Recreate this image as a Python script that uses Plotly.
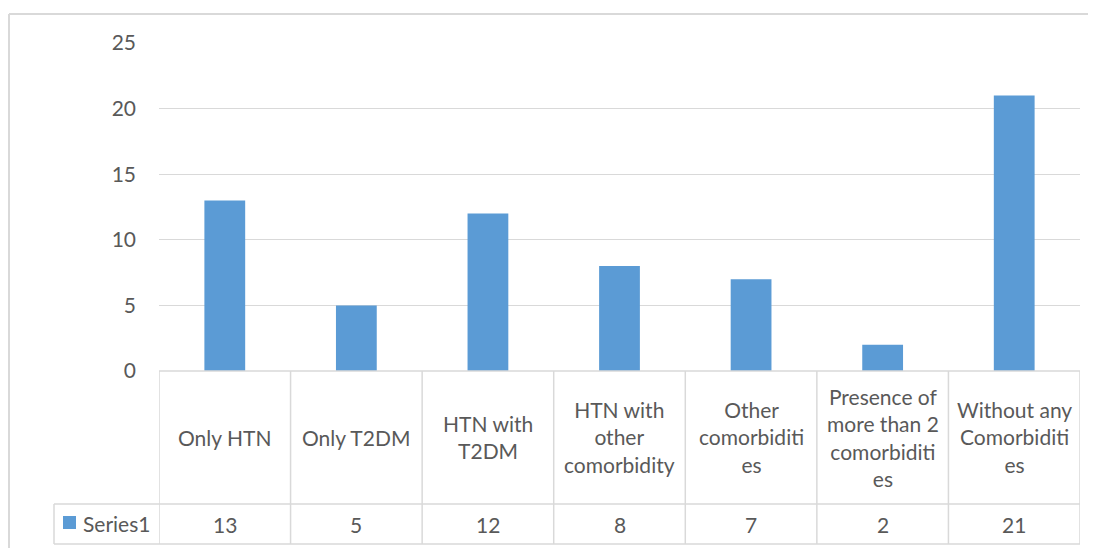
import plotly.graph_objects as go

categories = ["Only HTN", "Only T2DM", "HTN with<br>T2DM", "HTN with<br>other<br>comorbidity",
              "Other<br>comorbiditi<br>es", "Presence of<br>more than 2<br>comorbiditi<br>es",
              "Without any<br>Comorbiditi<br>es"]
values = [13, 5, 12, 8, 7, 2, 21]
series_name = "Series1"
y_ticks = [0, 5, 10, 15, 20, 25]

OFF = 8  # page body margin offset
W, H = 1096, 548
L, R, T, B = 159 - OFF, 1080 - OFF, 43 - OFF, 371 - OFF
PW, PH = R - L, B - T

def px(x):
    return (x - OFF - L) / PW

def py(y):
    return (B - (y - OFF)) / PH

BAR = "#5b9bd5"
GRID = "#d9d9d9"
TXT = "#595959"
FONT = "Lato"

n = len(categories)
xs = list(range(n))

fig = go.Figure()
fig.add_trace(go.Bar(x=xs, y=values, width=0.31, marker=dict(color=BAR, line=dict(width=0)),
                     name=series_name, showlegend=False))

shapes = []
line = dict(color=GRID, width=1.5)
# outer chart border
shapes.append(dict(type="line", xref="paper", yref="paper", x0=px(9), x1=px(1110), y0=py(14), y1=py(14),
                   line=dict(color=GRID, width=2)))
shapes.append(dict(type="line", xref="paper", yref="paper", x0=px(9), x1=px(9), y0=py(14), y1=py(560),
                   line=dict(color=GRID, width=2)))
# table horizontals
shapes.append(dict(type="line", xref="x", yref="paper", x0=-0.5, x1=n - 0.5, y0=0, y1=0, line=line))
shapes.append(dict(type="line", xref="paper", yref="paper", x0=px(54), x1=1, y0=py(504), y1=py(504), line=line))
shapes.append(dict(type="line", xref="paper", yref="paper", x0=px(54), x1=1, y0=py(544), y1=py(544), line=line))
# table verticals
for i in range(n + 1):
    shapes.append(dict(type="line", xref="x", yref="paper", x0=i - 0.5, x1=i - 0.5, y0=0, y1=py(544), line=line))
shapes.append(dict(type="line", xref="paper", yref="paper", x0=px(54), x1=px(54), y0=py(504), y1=py(544), line=line))
# legend key square
shapes.append(dict(type="rect", xref="paper", yref="paper", x0=px(63), x1=px(76), y0=py(516), y1=py(529),
                   fillcolor=BAR, line=dict(width=0)))

annotations = []
for i, c in enumerate(categories):
    annotations.append(dict(x=i, xref="x", y=py(437.5), yref="paper", text=c, showarrow=False,
                            xanchor="center", yanchor="middle", align="center",
                            font=dict(family=FONT, size=21, color=TXT)))
    annotations.append(dict(x=i, xref="x", y=py(524), yref="paper", text=str(values[i]), showarrow=False,
                            xanchor="center", yanchor="middle",
                            font=dict(family=FONT, size=21, color=TXT)))
annotations.append(dict(x=px(81), xref="paper", y=py(523), yref="paper", text=series_name, showarrow=False,
                        xanchor="left", yanchor="middle",
                        font=dict(family=FONT, size=21, color=TXT)))

fig.update_layout(
    width=W, height=H,
    margin=dict(l=L, r=W - R, t=T, b=H - B, pad=0),
    paper_bgcolor="white", plot_bgcolor="white",
    shapes=shapes, annotations=annotations,
    xaxis=dict(range=[-0.5, n - 0.5], showticklabels=False, showgrid=False, zeroline=False,
               showline=False, ticks=""),
    yaxis=dict(range=[0, 25], tickvals=y_ticks, showgrid=True, gridcolor=GRID, gridwidth=1.3,
               zeroline=False, showline=False, ticks="", ticklabelstandoff=22,
               tickfont=dict(family=FONT, size=21, color=TXT)),
)

fig.write_html("out.html")
